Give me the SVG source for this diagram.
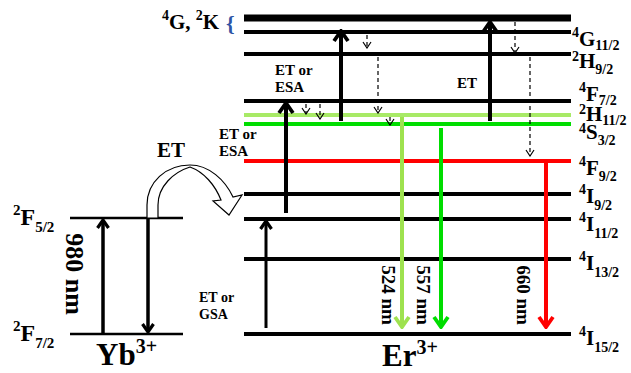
<svg xmlns="http://www.w3.org/2000/svg" width="631" height="373" viewBox="0 0 631 373">
<style>
text{font-family:"Liberation Serif","Times New Roman",serif;font-weight:bold;fill:#000}
.lbl{font-size:21px}
.ylbl{font-size:24px}
.s{font-size:14px}
.ys{font-size:15px}
.ion{font-size:31px}
.ions{font-size:20px}
.sm{font-size:15px}
.sm2{font-size:14px}
.nm{font-size:19px}
.lv{stroke:#000;stroke-width:4}
.yl{stroke:#000;stroke-width:2.5}
.sol{stroke:#000;fill:none}
.dash{stroke:#000;stroke-width:1.2;stroke-dasharray:4 3;fill:none;marker-end:url(#mkd)}
</style>
<defs>
<marker id="mkb" markerUnits="userSpaceOnUse" viewBox="0 0 14 18" refX="12" refY="9" markerWidth="14" markerHeight="18" orient="auto"><path d="M2,2 L12,9 L2,16" fill="none" stroke="#000" stroke-width="3.8"/></marker>
<marker id="mkm" markerUnits="userSpaceOnUse" viewBox="0 0 12 14" refX="10" refY="7" markerWidth="12" markerHeight="14" orient="auto"><path d="M2,1.5 L10,7 L2,12.5" fill="none" stroke="#000" stroke-width="3.2"/></marker>
<marker id="mkd" markerUnits="userSpaceOnUse" viewBox="0 0 8 10" refX="7" refY="5" markerWidth="8" markerHeight="10" orient="auto"><path d="M1,1 L7,5 L1,9" fill="none" stroke="#000" stroke-width="1.2"/></marker>
<marker id="mklg" markerUnits="userSpaceOnUse" viewBox="0 0 14 18" refX="12" refY="9" markerWidth="14" markerHeight="18" orient="auto"><path d="M2,2 L12,9 L2,16" fill="none" stroke="#9ee24f" stroke-width="3.8"/></marker>
<marker id="mkg" markerUnits="userSpaceOnUse" viewBox="0 0 14 18" refX="12" refY="9" markerWidth="14" markerHeight="18" orient="auto"><path d="M2,2 L12,9 L2,16" fill="none" stroke="#00dd00" stroke-width="3.8"/></marker>
<marker id="mkr" markerUnits="userSpaceOnUse" viewBox="0 0 14 18" refX="12" refY="9" markerWidth="14" markerHeight="18" orient="auto"><path d="M2,2 L12,9 L2,16" fill="none" stroke="#ff0000" stroke-width="3.8"/></marker>
</defs>
<rect width="631" height="373" fill="#fff"/>

<!-- Yb levels -->
<g id="yb-2F52">
<line class="yl" x1="70" y1="218" x2="183" y2="218"/>
<text class="ylbl" x="13" y="225"><tspan class="ys" dy="-10">2</tspan><tspan dy="10">F</tspan><tspan class="ys" dy="7">5/2</tspan></text>
</g>
<g id="yb-2F72">
<line class="yl" x1="70" y1="334" x2="183" y2="334"/>
<text class="ylbl" x="13" y="341"><tspan class="ys" dy="-10">2</tspan><tspan dy="10">F</tspan><tspan class="ys" dy="7">7/2</tspan></text>
</g>
<g id="yb-ion"><text class="ion" x="96" y="365">Yb<tspan class="ions" dy="-12">3+</tspan></text></g>

<!-- Er levels -->
<g id="er-4G2K">
<line stroke="#000" stroke-width="7" x1="244" y1="18" x2="571" y2="18"/>
<text font-size="21" x="162" y="29"><tspan class="s" dy="-9">4</tspan><tspan dy="9">G, </tspan><tspan class="s" dy="-9">2</tspan><tspan dy="9">K</tspan></text>
<text x="226" y="31" font-size="22" style="fill:#2f55a5">{</text>
</g>
<g id="er-4G112">
<line class="lv" x1="244" y1="32" x2="571" y2="32"/>
<text class="lbl" x="572" y="46"><tspan class="s" dy="-9">4</tspan><tspan dy="9">G</tspan><tspan class="s" dy="4">11/2</tspan></text>
</g>
<g id="er-2H92">
<line class="lv" x1="244" y1="54" x2="571" y2="54"/>
<text class="lbl" x="572" y="68"><tspan class="s" dy="-7">2</tspan><tspan dy="7">H</tspan><tspan class="s" dy="6">9/2</tspan></text>
</g>
<g id="er-4F72">
<line class="lv" x1="244" y1="101" x2="571" y2="101"/>
<text class="lbl" x="579" y="101"><tspan class="s" dy="-9">4</tspan><tspan dy="9">F</tspan><tspan class="s" dy="4">7/2</tspan></text>
</g>
<g id="er-2H112">
<line stroke="#a8ea66" stroke-width="4" x1="244" y1="115" x2="571" y2="115"/>
<text class="lbl" x="579" y="121"><tspan class="s" dy="-7">2</tspan><tspan dy="7">H</tspan><tspan class="s" dy="4">11/2</tspan></text>
</g>
<g id="er-4S32">
<line stroke="#00dd00" stroke-width="4" x1="244" y1="124" x2="571" y2="124"/>
<text class="lbl" x="579" y="139"><tspan class="s" dy="-6">4</tspan><tspan dy="6">S</tspan><tspan class="s" dy="6">3/2</tspan></text>
</g>
<g id="er-4F92">
<line stroke="#ff0000" stroke-width="4" x1="244" y1="161" x2="571" y2="161"/>
<text class="lbl" x="579" y="175"><tspan class="s" dy="-9">4</tspan><tspan dy="9">F</tspan><tspan class="s" dy="6">9/2</tspan></text>
</g>
<g id="er-4I92">
<line class="lv" x1="244" y1="194" x2="571" y2="194"/>
<text class="lbl" x="579" y="203"><tspan class="s" dy="-9">4</tspan><tspan dy="9">I</tspan><tspan class="s" dy="7">9/2</tspan></text>
</g>
<g id="er-4I112">
<line class="lv" x1="244" y1="219" x2="571" y2="219"/>
<text class="lbl" x="579" y="231"><tspan class="s" dy="-9">4</tspan><tspan dy="9">I</tspan><tspan class="s" dy="7">11/2</tspan></text>
</g>
<g id="er-4I132">
<line class="lv" x1="244" y1="259" x2="571" y2="259"/>
<text class="lbl" x="579" y="270"><tspan class="s" dy="-9">4</tspan><tspan dy="9">I</tspan><tspan class="s" dy="7">13/2</tspan></text>
</g>
<g id="er-4I152">
<line class="lv" x1="244" y1="334" x2="571" y2="334"/>
<text class="lbl" x="579" y="345"><tspan class="s" dy="-9">4</tspan><tspan dy="9">I</tspan><tspan class="s" dy="7">15/2</tspan></text>
</g>
<g id="er-ion"><text class="ion" x="382" y="366">Er<tspan class="ions" dy="-12">3+</tspan></text></g>

<!-- connectors -->
<g id="connectors">
<line class="sol" stroke-width="3.5" x1="103" y1="334" x2="103" y2="220" marker-end="url(#mkm)"/>
<line class="sol" stroke-width="3.5" x1="148" y1="218" x2="148" y2="332" marker-end="url(#mkm)"/>
<path d="M147,218 L147,205 C147,182 166,165 190,165 C209,165 225,180 233,197 L242,195 L229,215 L213,201 L221,200 C215,185 204,172 190,167 C174,172 158,186 158,205 L158,218 Z" fill="#fff" stroke="#000" stroke-width="1.2"/>
<line class="sol" stroke-width="3" x1="266" y1="328" x2="266" y2="221" marker-end="url(#mkm)"/>
<line class="sol" stroke-width="4" x1="286" y1="213" x2="286" y2="103" marker-end="url(#mkb)"/>
<line class="sol" stroke-width="4" x1="341" y1="121" x2="341" y2="31" marker-end="url(#mkb)"/>
<line class="sol" stroke-width="4" x1="490" y1="121" x2="490" y2="22" marker-end="url(#mkb)"/>
<line stroke="#9ee24f" stroke-width="4" x1="402" y1="117" x2="402" y2="327" marker-end="url(#mklg)"/>
<line stroke="#00dd00" stroke-width="4" x1="441" y1="128" x2="441" y2="327" marker-end="url(#mkg)"/>
<line stroke="#ff0000" stroke-width="4" x1="546" y1="161" x2="546" y2="327" marker-end="url(#mkr)"/>
<line class="dash" x1="367" y1="35" x2="367" y2="48"/>
<line class="dash" x1="378" y1="57" x2="378" y2="113"/>
<line class="dash" x1="306" y1="104" x2="306" y2="114"/>
<line class="dash" x1="320" y1="104" x2="320" y2="119"/>
<line class="dash" x1="390" y1="117" x2="390" y2="125"/>
<line class="dash" x1="515" y1="22" x2="515" y2="53"/>
<line class="dash" x1="530" y1="57" x2="530" y2="156"/>
</g>

<!-- process labels -->
<g id="labels">
<text font-size="21" x="157" y="157">ET</text>
<text class="sm" x="275" y="75">ET or</text>
<text class="sm" x="275" y="92">ESA</text>
<text class="sm" x="219" y="139">ET or</text>
<text class="sm" x="219" y="156">ESA</text>
<text class="sm" x="457" y="88">ET</text>
<text class="sm2" x="199" y="302">ET or</text>
<text class="sm2" x="199" y="319">GSA</text>
<text font-size="26" text-anchor="middle" transform="translate(66,274) rotate(90)">980 nm</text>
<text class="nm" text-anchor="middle" transform="translate(382,295) rotate(90)">524 nm</text>
<text class="nm" text-anchor="middle" transform="translate(417,295) rotate(90)">557 nm</text>
<text class="nm" text-anchor="middle" transform="translate(517,295) rotate(90)">660 nm</text>
</g>
</svg>
